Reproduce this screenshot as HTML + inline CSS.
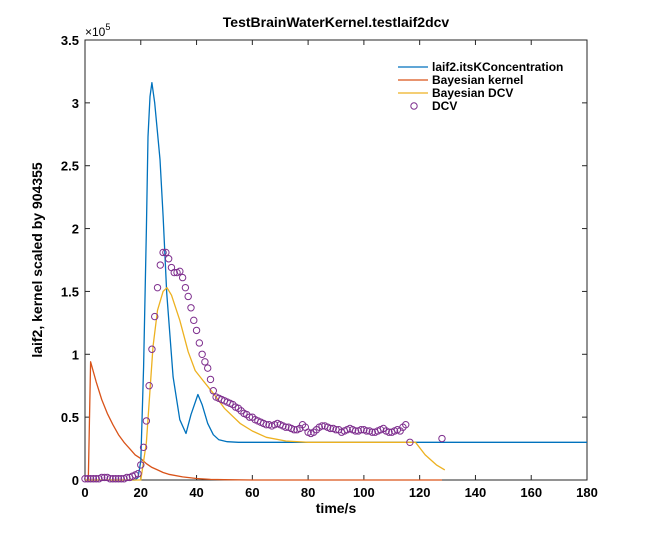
<!DOCTYPE html>
<html><head><meta charset="utf-8"><style>
body{margin:0;background:#fff}
svg text{font-family:"Liberation Sans",Arial,sans-serif}
</style></head><body>
<svg id="chart" width="653" height="541">
<rect width="653" height="541" fill="#fff"/>
<text x="336" y="27" text-anchor="middle" font-size="14" font-weight="bold" fill="#000">TestBrainWaterKernel.testlaif2dcv</text>
<text x="336" y="513" text-anchor="middle" font-size="14" font-weight="bold" fill="#000">time/s</text>
<text transform="translate(42,260) rotate(-90)" text-anchor="middle" font-size="14" font-weight="bold" fill="#000">laif2, kernel scaled by 904355</text>
<text x="85" y="36" font-size="12" fill="#000">×10<tspan dy="-6" font-size="9">5</tspan></text>
<g id="plot"></g>
<g id="legend">
 <line x1="398" y1="67" x2="428" y2="67" stroke="#0072BD" stroke-width="1.3"/>
 <text x="432" y="71" font-size="12" font-weight="bold">laif2.itsKConcentration</text>
 <line x1="398" y1="80" x2="428" y2="80" stroke="#D95319" stroke-width="1.3"/>
 <text x="432" y="84" font-size="12" font-weight="bold">Bayesian kernel</text>
 <line x1="398" y1="93" x2="428" y2="93" stroke="#EDB120" stroke-width="1.3"/>
 <text x="432" y="97" font-size="12" font-weight="bold">Bayesian DCV</text>
 <circle cx="414" cy="106" r="3.2" fill="none" stroke="#7E2F8E"/>
 <text x="432" y="110" font-size="12" font-weight="bold">DCV</text>
</g>
</svg>
<script>
const xTicks=[0,20,40,60,80,100,120,140,160,180];
const yTicks=[0,0.5,1,1.5,2,2.5,3,3.5];
const yTickLabels=["0","0.5","1","1.5","2","2.5","3","3.5"];
const laifT=[0,18,19,20,21,22,22.6,23.3,24,25,26.9,28,29.3,31.6,34,36.2,38,40.5,42,44,46,48,51,55,180];
const laifV=[0,0,0.02,0.15,0.9,2.0,2.73,3.05,3.16,3.0,2.55,2.1,1.49,0.82,0.48,0.37,0.52,0.68,0.6,0.45,0.36,0.32,0.305,0.3,0.3];
const kernT=[0,1.2,2,4,6,8,10,12,14,16,18,20,22,24,26,28,30,35,40,45,50,60,128];
const kernV=[0,0,0.94,0.78,0.64,0.53,0.44,0.36,0.30,0.25,0.20,0.17,0.13,0.10,0.08,0.06,0.045,0.025,0.012,0.005,0.002,0,0];
const bdcvT=[0,20,22,24.4,26,28,29.4,31,34,37,39.5,42,46,50,55.6,60,65,72,80,118.5,122,126,129];
const bdcvV=[0,0,0.3,1.06,1.35,1.5,1.53,1.47,1.27,1.02,0.87,0.8,0.69,0.57,0.45,0.39,0.34,0.31,0.3,0.3,0.2,0.12,0.08];
const dcvT=[0,1,2,3,4,5,6,7,8,9,10,11,12,13,14,15,16,17,18,19,20,21,22,23,24,25,26,27,28,29,30,31,32,33,34,35,36,37,38,39,40,41,42,43,44,45,46,47,48,49,50,51,52,53,54,55,56,57,58,59,60,61,62,63,64,65,66,67,68,69,70,71,72,73,74,75,76,77,78,79,80,81,82,83,84,85,86,87,88,89,90,91,92,93,94,95,96,97,98,99,100,101,102,103,104,105,106,107,108,109,110,111,112,113,114,115,116.5,128];
const dcvV=[0.01,0.01,0.01,0.01,0.01,0.01,0.02,0.02,0.02,0.01,0.01,0.01,0.01,0.01,0.01,0.02,0.02,0.03,0.04,0.05,0.12,0.26,0.47,0.75,1.04,1.30,1.53,1.71,1.81,1.81,1.76,1.69,1.65,1.65,1.66,1.61,1.53,1.46,1.37,1.27,1.19,1.09,1.00,0.94,0.89,0.80,0.71,0.66,0.65,0.64,0.63,0.62,0.61,0.60,0.58,0.57,0.55,0.53,0.52,0.50,0.50,0.48,0.47,0.46,0.45,0.44,0.44,0.43,0.44,0.45,0.44,0.43,0.42,0.42,0.41,0.40,0.40,0.41,0.44,0.42,0.38,0.37,0.38,0.40,0.42,0.43,0.43,0.42,0.41,0.41,0.40,0.40,0.38,0.39,0.40,0.41,0.40,0.39,0.39,0.40,0.40,0.39,0.39,0.38,0.38,0.39,0.40,0.41,0.39,0.38,0.38,0.39,0.40,0.39,0.42,0.44,0.30,0.33];

const X0=85,X1=587,Y0=480,Y1=40;
const sx=v=>X0+(v-0)/(180-0)*(X1-X0);
const sy=v=>Y0-(v-0)/(3.5-0)*(Y0-Y1);
const NS="http://www.w3.org/2000/svg";
const plot=document.getElementById('plot');
function mk(tag,attrs){const e=document.createElementNS(NS,tag);for(const k in attrs)e.setAttribute(k,attrs[k]);plot.appendChild(e);return e;}

const frame=mk('rect',{x:X0,y:Y1,width:X1-X0,height:Y0-Y1,fill:'none',stroke:'#262626','stroke-width':1});



xTicks.forEach(t=>{
  const x=sx(t);
  const l=mk('line',{x1:x,y1:Y0,x2:x,y2:Y0-5,stroke:'#262626'});
  
  
  const l2=mk('line',{x1:x,y1:Y1,x2:x,y2:Y1+5,stroke:'#262626'});
  
  
  const tx=mk('text',{x:x,y:Y0+17,'text-anchor':'middle','font-size':13,'font-weight':'bold'});
  tx.textContent=t;
  
  
});
yTicks.forEach((t,i)=>{
  const y=sy(t);
  const l=mk('line',{x1:X0,y1:y,x2:X0+5,y2:y,stroke:'#262626'});
  
  
  const l2=mk('line',{x1:X1,y1:y,x2:X1-5,y2:y,stroke:'#262626'});
  
  
  const tx=mk('text',{x:X0-6,y:y+5,'text-anchor':'end','font-size':13,'font-weight':'bold'});
  tx.textContent=yTickLabels[i];
  
  
});

function line(T,V,color,name){
  const d=T.map((t,i)=>(i?'L':'M')+sx(t).toFixed(1)+','+sy(V[i]).toFixed(1)).join('');
  const p=mk('path',{d:d,fill:'none',stroke:color,'stroke-width':1.3,'stroke-linejoin':'round'});
  
  
}
line(kernT,kernV,'#D95319','series-bayesian-kernel');
line(laifT,laifV,'#0072BD','series-laif2');
line(bdcvT,bdcvV,'#EDB120','series-bayesian-dcv');
dcvT.forEach((t,i)=>{
  const c=mk('circle',{cx:sx(t),cy:sy(dcvV[i]),r:3.2,fill:'none',stroke:'#7E2F8E','stroke-width':1});
  
  
});
</script>
</body></html>
